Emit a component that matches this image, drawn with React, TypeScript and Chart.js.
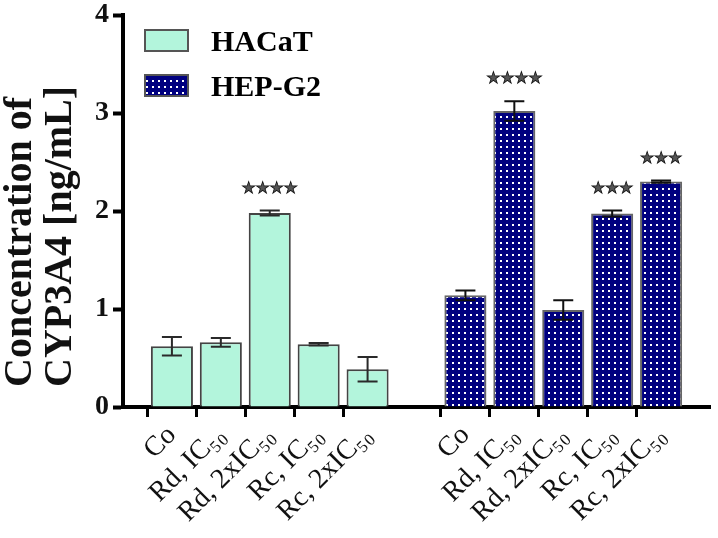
import React, { useEffect, useRef } from "react";
import { Chart, registerables } from "chart.js";

Chart.register(...registerables);

const groupLabels = ["Co", "Rd, IC₅₀", "Rd, 2xIC₅₀", "Rc, IC₅₀", "Rc, 2xIC₅₀"];
const hacatValues = [0.62, 0.66, 1.98, 0.64, 0.385];
const hacatErrors = [0.095, 0.045, 0.025, 0.012, 0.125];
const hacatSig = ["", "", "****", "", ""];
const hepValues = [1.14, 3.02, 0.99, 1.975, 2.3];
const hepErrors = [0.05, 0.1, 0.1, 0.03, 0.012];
const hepSig = ["", "****", "", "***", "***"];
const yTicks = [0, 1, 2, 3, 4];

// category layout: blank, group 1, blank, group 2, blank
const categories = ["", ...groupLabels, "", ...groupLabels, ""];
const pad = (arr: (number | string)[], first: boolean) =>
  first
    ? [null, ...arr, null, ...arr.map(() => null), null]
    : [null, ...arr.map(() => null), null, ...arr, null];

function makeDotPattern(): CanvasPattern | string {
  const c = document.createElement("canvas");
  c.width = 6;
  c.height = 6;
  const g = c.getContext("2d");
  if (!g) return "#00007f";
  g.fillStyle = "#00007f";
  g.fillRect(0, 0, 6, 6);
  g.fillStyle = "#ffffff";
  g.fillRect(2, 2, 2, 2);
  return g.createPattern(c, "repeat") || "#00007f";
}

const errorBarPlugin = {
  id: "errorBars",
  afterDatasetsDraw(chart: any) {
    const ctx = chart.ctx;
    const yScale = chart.scales.y;
    chart.data.datasets.forEach((ds: any, di: number) => {
      const meta = chart.getDatasetMeta(di);
      meta.data.forEach((el: any, i: number) => {
        const v = ds.data[i];
        const e = ds.errors[i];
        if (v == null || e == null) return;
        const x = el.x;
        const yTop = yScale.getPixelForValue(v + e);
        const yBot = yScale.getPixelForValue(v - e);
        ctx.save();
        ctx.strokeStyle = ds.errorColor;
        ctx.lineWidth = 2;
        ctx.beginPath();
        ctx.moveTo(x, yTop);
        ctx.lineTo(x, yBot);
        ctx.moveTo(x - 10, yTop);
        ctx.lineTo(x + 10, yTop);
        ctx.moveTo(x - 10, yBot);
        ctx.lineTo(x + 10, yBot);
        ctx.stroke();
        const s = ds.sig[i];
        if (s) {
          ctx.font = "16px 'DejaVu Sans'";
          ctx.textAlign = "center";
          ctx.textBaseline = "middle";
          ctx.fillStyle = "#555";
          ctx.strokeStyle = "#111";
          ctx.lineWidth = 0.8;
          const n = s.length;
          const step = 14;
          for (let k = 0; k < n; k++) {
            const sx = x + (k - (n - 1) / 2) * step;
            ctx.fillText("★", sx, yTop - 22);
            ctx.strokeText("★", sx, yTop - 22);
          }
        }
        ctx.restore();
      });
    });
  },
};

const legendPlugin = {
  id: "customLegend",
  afterDraw(chart: any) {
    const ctx = chart.ctx;
    const area = chart.chartArea;
    const x0 = area.left + 22;
    chart.data.datasets.forEach((ds: any, di: number) => {
      const top = area.top + 15 + di * 45;
      ctx.save();
      ctx.fillStyle = ds.backgroundColor;
      ctx.fillRect(x0, top, 43, 21);
      ctx.strokeStyle = "#555";
      ctx.lineWidth = 2;
      ctx.strokeRect(x0, top, 43, 21);
      ctx.fillStyle = "#000";
      ctx.font = "bold 30px 'Liberation Serif'";
      ctx.textAlign = "left";
      ctx.textBaseline = "alphabetic";
      ctx.fillText(ds.label, x0 + 66, top + 21);
      ctx.restore();
    });
  },
};

export default function App() {
  const ref = useRef<HTMLCanvasElement | null>(null);
  useEffect(() => {
    if (!ref.current) return;
    const dots = makeDotPattern();
    const chart = new Chart(ref.current, {
      type: "bar",
      data: {
        labels: categories,
        datasets: [
          {
            label: "HACaT",
            data: pad(hacatValues, true) as any,
            errors: pad(hacatErrors, true),
            sig: pad(hacatSig, true),
            errorColor: "#2a2a2a",
            backgroundColor: "#b3f5dc",
            borderColor: "#444",
            borderWidth: 2,
            grouped: false,
            categoryPercentage: 1,
            barPercentage: 0.86,
          } as any,
          {
            label: "HEP-G2",
            data: pad(hepValues, false) as any,
            errors: pad(hepErrors, false),
            sig: pad(hepSig, false),
            errorColor: "#111",
            backgroundColor: dots,
            borderColor: "#666",
            borderWidth: 2,
            grouped: false,
            categoryPercentage: 1,
            barPercentage: 0.86,
          } as any,
        ],
      },
      options: {
        animation: false,
        responsive: true,
        maintainAspectRatio: false,
        layout: { padding: { top: 15, right: 8, left: 0, bottom: 0 } },
        plugins: {
          legend: { display: false },
          tooltip: { enabled: false },
        },
        scales: {
          x: {
            type: "category",
            offset: false,
            afterFit: (s: any) => {
              s.height = 131;
              s.paddingLeft = 0;
              s.paddingRight = 0;
            },
            border: { display: true, color: "#000", width: 4 },
            grid: {
              drawOnChartArea: false,
              drawTicks: true,
              tickLength: 10,
              tickWidth: 3,
              color: (c: any) =>
                categories[c.index] ? "#000" : "rgba(0,0,0,0)",
            },
            ticks: {
              autoSkip: false,
              maxRotation: 45,
              minRotation: 45,
              padding: 2,
              color: "#111",
              font: { family: "'Liberation Serif'", size: 28 },
            },
          },
          y: {
            min: 0,
            max: 4,
            afterFit: (s: any) => {
              s.width = 123;
              s.paddingTop = 0;
              s.paddingBottom = 0;
            },
            afterBuildTicks: (s: any) => {
              s.ticks = yTicks.map((v) => ({ value: v }));
            },
            border: { display: true, color: "#000", width: 4 },
            grid: {
              drawOnChartArea: false,
              drawTicks: true,
              tickLength: 10,
              tickWidth: 4,
              color: "#000",
            },
            ticks: {
              padding: 4,
              color: "#111",
              font: { family: "'Liberation Serif'", size: 28, weight: "bold" },
            },
            title: {
              display: true,
              text: ["\u2002Concentration of", "\u2002CYP3A4 [ng/mL]"],
              align: "start",
              color: "#111",
              padding: { top: 1, bottom: 0 },
              font: {
                family: "'Liberation Serif'",
                size: 40,
                weight: "bold",
                lineHeight: 1,
              },
            },
          },
        },
      },
      plugins: [errorBarPlugin, legendPlugin],
    } as any);
    return () => chart.destroy();
  }, []);
  return (
    <div
      style={{ position: "fixed", left: 0, top: 0, width: 718, height: 538, background: "#fff" }}
    >
      <canvas ref={ref} />
    </div>
  );
}
